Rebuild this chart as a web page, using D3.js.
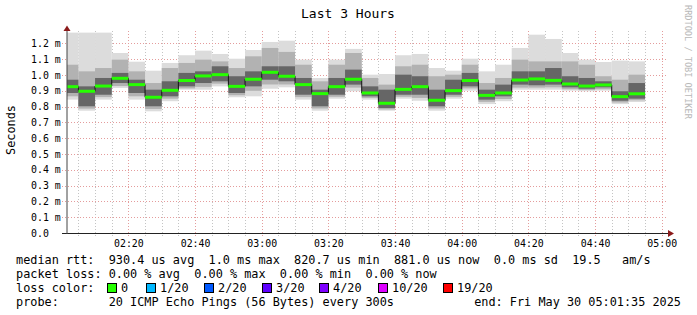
<!DOCTYPE html>
<html>
<head>
<meta charset="utf-8">
<script src="https://cdn.jsdelivr.net/npm/d3@7"></script>
<style>
  body { margin: 0; background: #fff; }
  text { font-family: "DejaVu Sans Mono", monospace; fill: #000; white-space: pre; }
</style>
</head>
<body>
<svg id="chart" width="697" height="315"></svg>
<script>
// start of each 5 min step (values in ms)
const stepStarts = ["02:00","02:05","02:10","02:15","02:20","02:25","02:30","02:35","02:40","02:45",
  "02:50","02:55","03:00","03:05","03:10","03:15","03:20","03:25","03:30","03:35",
  "03:40","03:45","03:50","03:55","04:00","04:05","04:10","04:15","04:20","04:25",
  "04:30","04:35","04:40","04:45","04:50"];

// smoke extents: slowest ping, upper mid band, upper dark band
const pingMax = [1.268,1.268,1.268,1.139,1.084,1.027,1.076,1.125,1.154,1.133,1.103,1.158,1.209,1.217,1.097,0.981,1.097,1.165,1.002,1.006,
  1.125,1.133,1.044,1.027,1.103,1.023,1.065,1.171,1.255,1.228,1.139,1.097,1.082,1.091,1.086];
const upperMid = [1.065,1.023,1.044,1.097,1.023,0.949,1.044,1.076,1.097,1.086,1.044,1.118,1.171,1.146,1.065,0.960,1.065,1.139,0.981,0.939,
  1.055,1.065,0.992,1.002,1.065,0.949,0.981,1.097,1.086,1.086,1.086,1.065,0.992,0.970,1.002];
const upperDark = [0.970,0.928,0.981,1.013,0.970,0.907,0.960,1.013,1.023,1.055,0.992,1.023,1.055,1.055,0.981,0.907,0.981,1.034,0.928,0.907,
  1.002,0.992,0.907,0.970,1.013,0.907,0.939,1.023,1.023,1.044,0.992,0.981,0.960,0.897,0.949];
const medianRtt = [0.926,0.897,0.930,0.979,0.939,0.859,0.903,0.965,0.994,1.002,0.928,0.973,1.017,0.992,0.939,0.882,0.926,0.973,0.886,0.821,
  0.909,0.926,0.840,0.901,0.965,0.871,0.886,0.968,0.975,0.966,0.943,0.930,0.937,0.863,0.881];
const lowerDark = [0.886,0.802,0.875,0.949,0.886,0.802,0.865,0.928,0.949,0.960,0.886,0.928,0.970,0.960,0.875,0.802,0.875,0.939,0.865,0.791,
  0.875,0.875,0.802,0.875,0.928,0.844,0.865,0.939,0.935,0.939,0.922,0.913,0.922,0.837,0.850];
const lowerMid = [0.865,0.787,0.860,0.930,0.865,0.785,0.850,0.915,0.925,0.945,0.872,0.900,0.940,0.940,0.860,0.788,0.862,0.920,0.855,0.782,
  0.862,0.855,0.788,0.862,0.915,0.830,0.848,0.920,0.920,0.922,0.910,0.905,0.910,0.826,0.840];
const pingMin = [0.844,0.774,0.844,0.918,0.844,0.770,0.834,0.907,0.907,0.928,0.859,0.865,0.913,0.922,0.844,0.774,0.850,0.897,0.844,0.774,
  0.850,0.837,0.774,0.850,0.901,0.816,0.834,0.907,0.907,0.907,0.901,0.897,0.901,0.816,0.829];

const yTicks = [0,0.1,0.2,0.3,0.4,0.5,0.6,0.7,0.8,0.9,1.0,1.1,1.2];
const yTickLabels = ["0.0","0.1 m","0.2 m","0.3 m","0.4 m","0.5 m","0.6 m","0.7 m","0.8 m","0.9 m","1.0 m","1.1 m","1.2 m"];
const lossLabels = ["0","1/20","2/20","3/20","4/20","10/20","19/20"];
const lossColors = ["#26ff00","#00b8ff","#0059ff","#5e00ff","#7e00ff","#dd00ff","#ff0000"];

const parse = d3.utcParse("%H:%M:%S");
const svg = d3.select("#chart");

const x = d3.scaleUtc()
    .domain([parse("02:01:35"), parse("05:01:35")])
    .range([67, 667]);
const y = d3.scaleLinear()
    .domain([0, 1.272])
    .range([233, 32]);

// build steps
const steps = stepStarts.map((s, i) => {
  const t0 = parse(s + ":00");
  return {
    x0: Math.max(x(t0), x.range()[0]),
    x1: x(d3.utcMinute.offset(t0, 5)),
    max: pingMax[i], um: upperMid[i], ud: upperDark[i], med: medianRtt[i],
    ld: lowerDark[i], lm: lowerMid[i], min: pingMin[i]
  };
});

// grid
const grid = svg.append("g");
const minorTimes = x.ticks(d3.utcMinute.every(5));
const majorTimes = x.ticks(d3.utcMinute.every(20));
const isMajor = t => t.getUTCMinutes() % 20 === 0;

grid.selectAll(".vminor")
  .data(minorTimes.filter(t => !isMajor(t)))
  .enter().append("line")
    .attr("x1", d => Math.round(x(d)) + 0.5).attr("x2", d => Math.round(x(d)) + 0.5)
    .attr("y1", 31).attr("y2", 236)
    .attr("stroke", "#c4c4c4").attr("stroke-dasharray", "1,2");

grid.selectAll(".vmajor")
  .data(majorTimes)
  .enter().append("line")
    .attr("x1", d => Math.round(x(d)) + 0.5).attr("x2", d => Math.round(x(d)) + 0.5)
    .attr("y1", 31).attr("y2", 236)
    .attr("stroke", "#e49c9c").attr("stroke-dasharray", "1,2");

grid.selectAll(".hmajor")
  .data(yTicks.slice(1))
  .enter().append("line")
    .attr("x1", 62).attr("x2", 668)
    .attr("y1", d => Math.round(y(d)) + 0.5).attr("y2", d => Math.round(y(d)) + 0.5)
    .attr("stroke", "#e49c9c").attr("stroke-dasharray", "1,2");

// smoke layers
const layers = [
  {lo: "min", hi: "max", color: "#dcdcdc"},
  {lo: "lm", hi: "um", color: "#b2b2b2"},
  {lo: "ld", hi: "ud", color: "#666666"}
];
layers.forEach(l => {
  svg.append("g").selectAll("rect")
    .data(steps)
    .enter().append("rect")
      .attr("x", d => d.x0)
      .attr("width", d => d.x1 - d.x0)
      .attr("y", d => y(d[l.hi]))
      .attr("height", d => y(d[l.lo]) - y(d[l.hi]))
      .attr("fill", l.color);
});

// median step line (black) with green loss-colored segments
const pts = [];
steps.forEach(d => { pts.push([d.x0, y(d.med)]); pts.push([d.x1, y(d.med)]); });
svg.append("path")
  .attr("d", d3.line()(pts))
  .attr("fill", "none")
  .attr("stroke", "#111")
  .attr("stroke-width", 1);

svg.append("g").selectAll("line")
  .data(steps)
  .enter().append("line")
    .attr("x1", d => d.x0).attr("x2", d => d.x1)
    .attr("y1", d => y(d.med)).attr("y2", d => y(d.med))
    .attr("stroke", lossColors[0])
    .attr("stroke-width", 3);

// axes
const xAxis = svg.append("g")
  .attr("transform", "translate(0,233)")
  .call(d3.axisBottom(x).tickValues(majorTimes).tickFormat(d3.utcFormat("%H:%M")).tickSize(0).tickPadding(6.5));
xAxis.select(".domain").remove();
xAxis.selectAll("text").attr("font-size", "9.9px").attr("font-family", "DejaVu Sans Mono");

const yAxis = svg.append("g")
  .attr("transform", "translate(67,0)")
  .call(d3.axisLeft(y).tickValues(yTicks).tickFormat((d, i) => yTickLabels[i]).tickSize(0));
yAxis.select(".domain").remove();
yAxis.selectAll("text")
  .attr("x", -36).attr("text-anchor", "start")
  .attr("font-size", "9.9px").attr("font-family", "DejaVu Sans Mono");

// axis lines + arrows
svg.append("line").attr("x1", 62).attr("x2", 669).attr("y1", 233.5).attr("y2", 233.5)
  .attr("stroke", "#222");
svg.append("line").attr("x1", 67).attr("x2", 67).attr("y1", 30).attr("y2", 234)
  .attr("stroke", "#444");
svg.append("path").attr("d", "M67,25.5L63.5,31L70.5,31Z").attr("fill", "#8b1a1a");
svg.append("path").attr("d", "M674,233.5L668,230L668,237Z").attr("fill", "#8b1a1a");

// titles
svg.append("text").attr("x", 348).attr("y", 18).attr("text-anchor", "middle")
  .attr("font-size", "13px").text("Last 3 Hours");
svg.append("text").attr("transform", "translate(15,130) rotate(-90)").attr("text-anchor", "middle")
  .attr("font-size", "11.85px").text("Seconds");
svg.append("text").attr("transform", "translate(685,5) rotate(90)")
  .attr("font-size", "8.6px").style("fill", "#b8b8b8").text("RRDTOOL / TOBI OETIKER");

// legend
const legend = svg.append("g").attr("font-size", "11.85px");
legend.append("text").attr("x", 16).attr("y", 263.5)
  .text("median rtt:  930.4 us avg  1.0 ms max  820.7 us min  881.0 us now  0.0 ms sd  19.5   am/s");
legend.append("text").attr("x", 16).attr("y", 277.5)
  .text("packet loss: 0.00 % avg  0.00 % max  0.00 % min  0.00 % now");
legend.append("text").attr("x", 16).attr("y", 291.5).text("loss color:");
legend.append("text").attr("x", 16).attr("y", 305.5)
  .text("probe:       20 ICMP Echo Pings (56 Bytes) every 300s");
legend.append("text").attr("x", 681).attr("y", 305.5).attr("text-anchor", "end")
  .text("end: Fri May 30 05:01:35 2025");

const swatchX = [107, 146, 204, 262, 319, 378, 443];
const sw = legend.selectAll(".sw").data(lossLabels).enter().append("g");
sw.append("rect")
  .attr("x", (d, i) => swatchX[i] + 0.5).attr("y", 283.5)
  .attr("width", 9).attr("height", 9)
  .attr("fill", (d, i) => lossColors[i]).attr("stroke", "#000");
sw.append("text")
  .attr("x", (d, i) => swatchX[i] + 14).attr("y", 291.5)
  .text(d => d);
</script>
</body>
</html>
